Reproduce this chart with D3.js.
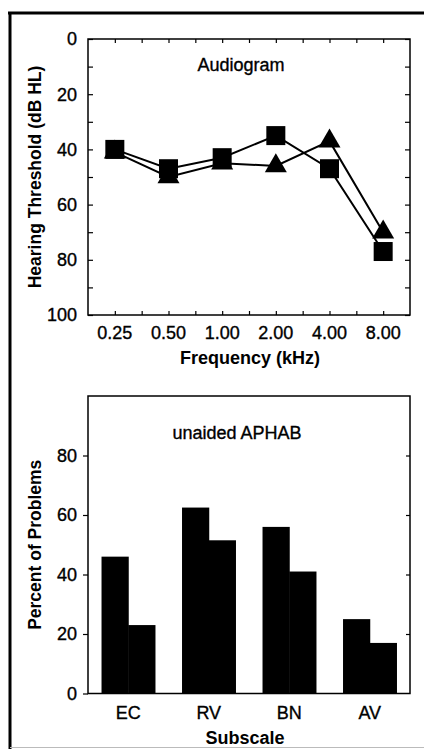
<!DOCTYPE html>
<html>
<head>
<meta charset="utf-8">
<script src="https://cdn.jsdelivr.net/npm/d3@7"></script>
<style>
  body { margin: 0; background: #fff; }
  svg { display: block; font-family: 'Liberation Sans', Arial, sans-serif; }
  .reg { stroke: #000; stroke-width: 0.35px; }
</style>
</head>
<body>
<div class="visualization"></div>
<script>
// audiogram data
var frequencies = ['0.25', '0.50', '1.00', '2.00', '4.00', '8.00']
var squareThresholds = [40, 47, 43, 35, 47, 77]
var triangleThresholds = [41, 50, 45, 46, 37, 70]
var thresholdTicks = [0, 20, 40, 60, 80, 100]

// aphab data
var subscales = ['EC', 'RV', 'BN', 'AV']
var firstPercents = [46, 62.5, 56, 25]
var secondPercents = [23, 51.5, 41, 17]
var percentTicks = [0, 20, 40, 60, 80]

const WIDTH = 424
const HEIGHT = 749

const svg = d3.select('.visualization')
  .append('svg')
  .attr('width', WIDTH)
  .attr('height', HEIGHT)

// outer frame
svg.append('line').attr('x1', 8).attr('x2', WIDTH).attr('y1', 13).attr('y2', 13)
  .attr('stroke', '#000').attr('stroke-width', 3)
svg.append('line').attr('x1', 10).attr('x2', 10).attr('y1', 12).attr('y2', HEIGHT)
  .attr('stroke', '#000').attr('stroke-width', 3)
svg.append('line').attr('x1', 10).attr('x2', WIDTH).attr('y1', 747.5).attr('y2', 747.5)
  .attr('stroke', '#bbb').attr('stroke-width', 1)

var left = 88
var right = 410

function drawAudiogram () {
  var top = 39
  var bottom = 315

  var x = d3.scaleBand().domain(frequencies).range([left, right])
  var y = d3.scaleLinear().domain([0, 100]).range([top, bottom])
  var half = x.bandwidth() / 2

  // tick positions at band centres and edges
  var xTickPos = []
  frequencies.forEach(function (f) {
    xTickPos.push(x(f))
    xTickPos.push(x(f) + half)
  })

  var g = svg.append('g')

  g.append('g')
    .attr('transform', 'translate(0,' + bottom + ')')
    .call(d3.axisTop(d3.scaleIdentity()).tickValues(xTickPos.slice(1)).tickSize(4).tickFormat(''))
  g.append('g')
    .attr('transform', 'translate(0,' + top + ')')
    .call(d3.axisBottom(d3.scaleIdentity()).tickValues(xTickPos.slice(1)).tickSize(4).tickFormat(''))
  g.append('g')
    .attr('transform', 'translate(' + left + ',0)')
    .call(d3.axisRight(y).ticks(10).tickSize(5).tickFormat(''))
  g.append('g')
    .attr('transform', 'translate(' + right + ',0)')
    .call(d3.axisLeft(y).ticks(10).tickSize(5).tickFormat(''))
  g.selectAll('.domain').remove()
  g.selectAll('.tick line').attr('stroke-width', 1.2)

  g.append('rect')
    .attr('x', left).attr('y', top)
    .attr('width', right - left).attr('height', bottom - top)
    .attr('fill', 'none').attr('stroke', '#000').attr('stroke-width', 1.5)

  // tick labels
  g.selectAll('.ylab')
    .data(thresholdTicks)
    .enter()
    .append('text')
    .attr('class', 'reg')
    .attr('x', 77)
    .attr('y', function (d) { return y(d) })
    .attr('dy', '0.36em')
    .attr('text-anchor', 'end')
    .style('font-size', '18px')
    .text(function (d) { return d })

  g.selectAll('.xlab')
    .data(frequencies)
    .enter()
    .append('text')
    .attr('class', 'reg')
    .attr('x', function (d) { return x(d) + half })
    .attr('y', 333)
    .attr('dy', '0.36em')
    .attr('text-anchor', 'middle')
    .style('font-size', '18px')
    .text(function (d) { return d })

  g.append('text')
    .attr('x', 250).attr('y', 358).attr('dy', '0.36em')
    .attr('text-anchor', 'middle')
    .style('font-size', '18px').style('font-weight', 'bold')
    .text('Frequency (kHz)')

  g.append('text')
    .attr('transform', 'translate(35,' + ((top + bottom) / 2) + ') rotate(-90)')
    .attr('dy', '0.36em')
    .attr('text-anchor', 'middle')
    .style('font-size', '17.5px').style('font-weight', 'bold')
    .text('Hearing Threshold (dB HL)')

  g.append('text')
    .attr('class', 'reg')
    .attr('x', 241).attr('y', 65).attr('dy', '0.36em')
    .attr('text-anchor', 'middle')
    .style('font-size', '18px')
    .text('Audiogram')

  var line = d3.line()
    .x(function (d, i) { return x(frequencies[i]) + half })
    .y(function (d) { return y(d) })

  g.append('path').datum(triangleThresholds)
    .attr('d', line).attr('fill', 'none').attr('stroke', '#000').attr('stroke-width', 2)
  g.append('path').datum(squareThresholds)
    .attr('d', line).attr('fill', 'none').attr('stroke', '#000').attr('stroke-width', 2)

  g.selectAll('.tri')
    .data(triangleThresholds)
    .enter()
    .append('path')
    .attr('transform', function (d, i) {
      return 'translate(' + (x(frequencies[i]) + half) + ',' + y(d) + ')'
    })
    .attr('d', d3.symbol().type(d3.symbolTriangle).size(210))
    .attr('fill', '#000')

  g.selectAll('.sq')
    .data(squareThresholds)
    .enter()
    .append('rect')
    .attr('x', function (d, i) { return x(frequencies[i]) + half - 9.5 })
    .attr('y', function (d) { return y(d) - 9.5 })
    .attr('width', 19).attr('height', 19)
    .attr('fill', '#000')
}

function drawAphab () {
  var top = 396
  var bottom = 693.5

  var x = d3.scaleBand().domain(subscales).range([left, right])
    .paddingInner(0.336).paddingOuter(0.168)
  var xSub = d3.scaleBand().domain([0, 1]).range([0, x.bandwidth()])
  var y = d3.scaleLinear().domain([0, 100]).range([bottom, top])

  var g = svg.append('g')

  var pairs = subscales.map(function (s, i) {
    return [firstPercents[i], secondPercents[i]]
  })

  g.selectAll('.grp')
    .data(pairs)
    .enter()
    .append('g')
    .attr('transform', function (d, i) { return 'translate(' + x(subscales[i]) + ',0)' })
    .selectAll('rect')
    .data(function (d) { return d })
    .enter()
    .append('rect')
    .attr('x', function (d, j) { return xSub(j) })
    .attr('y', function (d) { return y(d) })
    .attr('width', xSub.bandwidth() + 0.5)
    .attr('height', function (d) { return bottom - y(d) })
    .attr('fill', '#000')

  g.append('g')
    .attr('transform', 'translate(' + left + ',0)')
    .call(d3.axisLeft(y).tickValues(percentTicks).tickSize(5).tickFormat(''))
  g.append('g')
    .attr('transform', 'translate(' + right + ',0)')
    .call(d3.axisLeft(y).tickValues(percentTicks.slice(1)).tickSize(4).tickFormat(''))
  g.selectAll('.domain').remove()
  g.selectAll('.tick line').attr('stroke-width', 1.2)

  g.append('rect')
    .attr('x', left).attr('y', top)
    .attr('width', right - left).attr('height', bottom - top)
    .attr('fill', 'none').attr('stroke', '#000').attr('stroke-width', 1.5)

  g.selectAll('.ylab')
    .data(percentTicks)
    .enter()
    .append('text')
    .attr('class', 'reg')
    .attr('x', 77)
    .attr('y', function (d) { return y(d) })
    .attr('dy', '0.36em')
    .attr('text-anchor', 'end')
    .style('font-size', '18px')
    .text(function (d) { return d })

  g.selectAll('.xlab')
    .data(subscales)
    .enter()
    .append('text')
    .attr('class', 'reg')
    .attr('x', function (d) { return x(d) + x.bandwidth() / 2 })
    .attr('y', 713)
    .attr('dy', '0.36em')
    .attr('text-anchor', 'middle')
    .style('font-size', '18px')
    .text(function (d) { return d })

  g.append('text')
    .attr('x', 245).attr('y', 738).attr('dy', '0.36em')
    .attr('text-anchor', 'middle')
    .style('font-size', '18px').style('font-weight', 'bold')
    .text('Subscale')

  g.append('text')
    .attr('transform', 'translate(35,' + ((top + bottom) / 2) + ') rotate(-90)')
    .attr('dy', '0.36em')
    .attr('text-anchor', 'middle')
    .style('font-size', '17.5px').style('font-weight', 'bold')
    .text('Percent of Problems')

  g.append('text')
    .attr('class', 'reg')
    .attr('x', 237).attr('y', 433).attr('dy', '0.36em')
    .attr('text-anchor', 'middle')
    .style('font-size', '18px')
    .text('unaided APHAB')
}

drawAudiogram()
drawAphab()
</script>
</body>
</html>
